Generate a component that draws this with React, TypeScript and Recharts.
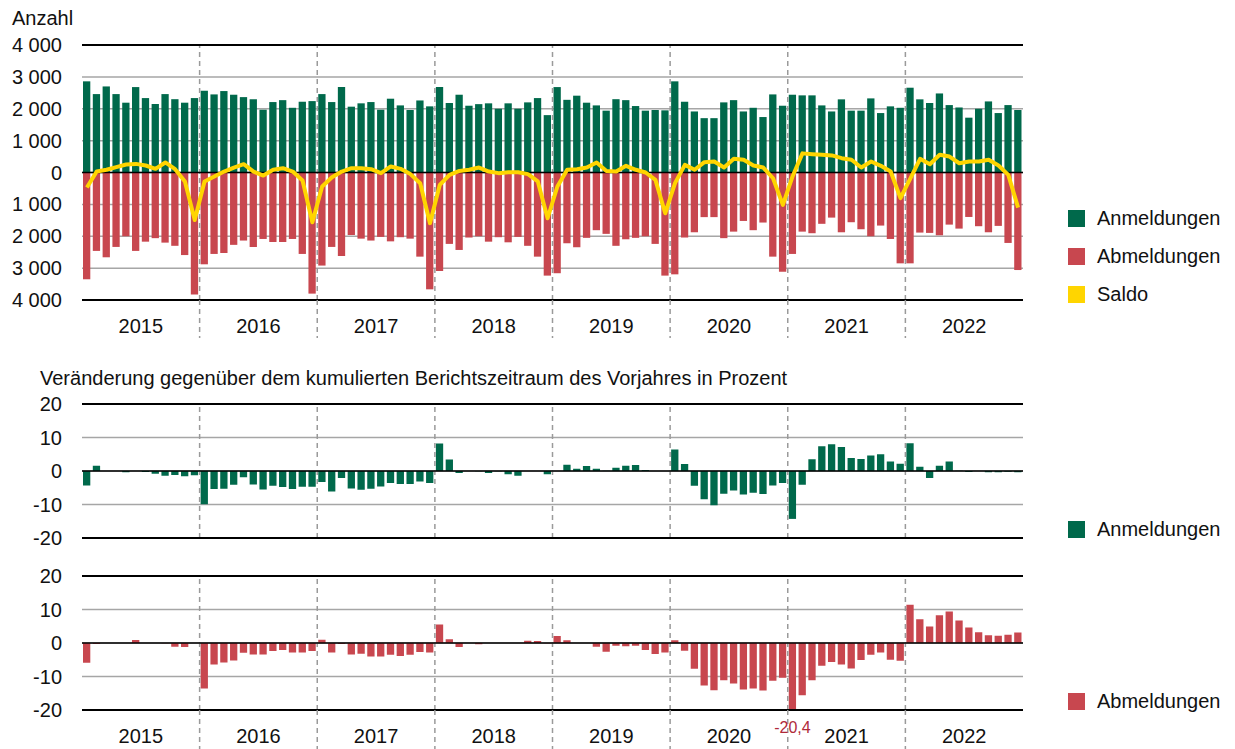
import {
  ComposedChart, BarChart, Bar, Line, XAxis, YAxis, CartesianGrid, ReferenceLine, LabelList,
} from "recharts";

const YEARS = ["2015", "2016", "2017", "2018", "2019", "2020", "2021", "2022"];

// monthly counts, Jan 2015 - Dec 2022
const ANMELDUNGEN = [
  2860, 2460, 2700, 2460, 2190, 2680, 2335, 2150, 2460, 2300, 2190, 2335,
  2565, 2450, 2555, 2440, 2365, 2300, 1970, 2210, 2270, 2030, 2220, 2240,
  2460, 2210, 2680, 2065, 2170, 2210, 1970, 2315, 2105, 1960, 2260, 2075,
  2680, 2180, 2440, 2095, 2145, 2170, 2000, 2170, 2000, 2200, 2335, 1800,
  2680, 2280, 2410, 2190, 2105, 1940, 2300, 2270, 2085, 1940, 1960, 1950,
  2860, 2220, 1915, 1705, 1705, 2200, 2270, 1915, 2030, 1740, 2450, 2095,
  2440, 2420, 2420, 2105, 1915, 2295, 1940, 1940, 2325, 1865, 2075, 2030,
  2660, 2295, 2180, 2480, 2115, 2040, 1720, 2000, 2230, 1865, 2115, 1960,
];

// drawn below zero
const ABMELDUNGEN = [
  3350, 2460, 2660, 2335, 2000, 2460, 2170, 2060, 2200, 2300, 2590, 3830,
  2880, 2555, 2525, 2270, 2135, 2335, 2085, 2180, 2180, 2085, 2555, 3800,
  2920, 2335, 2620, 1960, 2075, 2135, 2020, 2160, 2030, 2075, 2640, 3665,
  3090, 2240, 2430, 2040, 2000, 2170, 2030, 2190, 2020, 2300, 2640, 3235,
  3160, 2220, 2345, 2050, 1810, 1925, 2300, 2095, 2050, 2000, 2240, 3235,
  3195, 2040, 1875, 1400, 1400, 2060, 1855, 1520, 1810, 1570, 2640, 3110,
  2555, 1855, 1905, 1610, 1415, 1875, 1560, 1780, 2000, 1665, 2085, 2850,
  2850, 1885, 1895, 1970, 1635, 1760, 1395, 1685, 1875, 1675, 2210, 3060,
];

const SALDO = [
  -470, 30, 85, 170, 250, 270, 220, 115, 315, 105, -280, -1490,
  -280, -125, 30, 155, 260, 30, -95, 85, 135, 30, -250, -1560,
  -440, -150, 30, 135, 135, 105, -20, 190, 115, -50, -335, -1590,
  -390, -75, 50, 85, 155, 30, -20, 10, 10, -50, -280, -1435,
  -440, 85, 105, 155, 315, 50, 30, 210, 85, 0, -230, -1280,
  -335, 240, 85, 325, 345, 155, 430, 400, 220, 155, -180, -1015,
  -115, 600, 575, 555, 535, 450, 400, 155, 345, 210, 30, -805,
  -190, 430, 260, 555, 500, 290, 345, 345, 400, 220, -75, -1100,
];

// change vs. cumulated reporting period of previous year, %
const ANM_PCT = [
  -4.3, 1.6, 0, 0, -0.4, 0, -0.3, -0.8, -1.4, -1.2, -1.6, -1.3,
  -9.9, -5.4, -5.3, -4.1, -1.9, -4.0, -5.5, -4.4, -4.8, -5.4, -4.7, -4.7,
  -3.3, -6.1, -2.1, -5.2, -5.6, -5.3, -4.6, -3.6, -3.9, -3.9, -3.1, -3.6,
  8.2, 3.4, -0.6, 0, -0.1, -0.6, -0.1, -1.0, -1.4, 0, 0, -1.0,
  0, 1.9, 0.7, 1.5, 0.7, 0.1, 1.0, 1.6, 1.8, 0.3, 0, 0,
  6.4, 2.1, -4.4, -8.4, -10.2, -6.8, -5.8, -7.0, -6.5, -6.9, -4.3, -3.6,
  -14.3, -4.1, 3.5, 7.4, 8.0, 7.2, 3.9, 3.6, 4.6, 5.0, 2.8, 2.2,
  8.3, 1.3, -2.1, 1.6, 2.8, 0.1, -0.3, 0, -0.4, -0.4, -0.2, -0.4,
];

const ABM_PCT = [
  -5.9, -0.3, 0, 0, 0, 0.9, 0, 0, -0.1, -1.1, -1.2, 0,
  -13.6, -6.4, -5.8, -5.2, -2.9, -3.4, -3.4, -2.4, -2.1, -2.8, -2.8, -2.4,
  1.0, -2.8, -0.3, -3.4, -3.2, -4.0, -4.0, -3.5, -3.9, -3.5, -2.7, -2.8,
  5.5, 1.1, -1.2, 0, -0.4, 0, 0, 0, 0, 0.7, 0.6, -0.1,
  2.1, 0.8, 0, 0, -1.1, -2.6, -0.8, -1.0, -0.8, -2.1, -3.3, -2.8,
  0.8, -2.3, -7.7, -12.7, -14.1, -11.1, -12.1, -13.9, -13.6, -14.2, -11.3, -10.4,
  -20.4, -15.6, -11.1, -6.8, -5.7, -6.4, -7.6, -5.1, -3.5, -2.8, -5.0, -5.3,
  11.4, 7.1, 4.9, 8.3, 9.4, 6.7, 4.6, 3.2, 2.3, 2.2, 2.5, 3.1,
];

const COUNT_TICKS = [-4000, -3000, -2000, -1000, 0, 1000, 2000, 3000, 4000];
const PCT_TICKS = [-20, -10, 0, 10, 20];

const GREEN = "#00694b";
const RED = "#c8474f";
const YELLOW = "#ffd500";
const GRID = "#a6a6a6";
const DIVIDER = "#9a9a9a";
const FONT = '"Liberation Sans", Arial, Helvetica, sans-serif';
const BAR = 7.3;

const data = ANMELDUNGEN.map((an, i) => ({
  x: i + 0.5,
  an,
  ab: -ABMELDUNGEN[i],
  saldo: SALDO[i],
  anPct: ANM_PCT[i],
  abPct: ABM_PCT[i],
}));

// year centres and year borders on the month axis
const X_TICKS = Array.from({ length: YEARS.length * 2 - 1 }, (_, i) => (i + 1) * 6);
const YEAR_BOUNDS = YEARS.slice(1).map((_, i) => (i + 1) * 12);
const ABM_MIN = Math.min(...ABM_PCT);

const fmtCount = (v: number) => {
  const a = Math.abs(v);
  return a >= 1000 ? `${Math.floor(a / 1000)} ${String(a % 1000).padStart(3, "0")}` : String(a);
};

function YearTick({ x, y, payload, ext }: any) {
  const v = payload.value;
  if (v % 12 === 0) {
    return <line x1={x} x2={x} y1={y} y2={y + ext} stroke={DIVIDER} strokeWidth={1.5} strokeDasharray="5 4" />;
  }
  return (
    <text x={x} y={y + 26} textAnchor="middle" dominantBaseline="central" fontSize={20} fill="#111">
      {YEARS[(v - 6) / 12]}
    </text>
  );
}

// only the lowest bar gets its value printed under the axis
function MinLabel(props: any) {
  const { x, y, width, height, value } = props;
  if (Number(value) !== ABM_MIN) return null;
  const bottom = Math.max(y, y + height);
  return (
    <text x={x + width / 2} y={bottom + 16} textAnchor="middle" dominantBaseline="central" fontSize={16} fill="#b02a3a">
      {String(value).replace(".", ",")}
    </text>
  );
}

function LegendItem({ color, label, top }: { color: string; label: string; top: number }) {
  return (
    <div style={{ position: "absolute", left: 1068, top, height: 24, display: "flex", alignItems: "center" }}>
      <span style={{ width: 17, height: 17, background: color, marginRight: 12 }} />
      <span style={{ fontSize: 20, lineHeight: "24px" }}>{label}</span>
    </div>
  );
}

const yTick = { fontSize: 20, fill: "#111" };

function dividers() {
  return YEAR_BOUNDS.map((b) => (
    <ReferenceLine key={b} x={b} stroke={DIVIDER} strokeWidth={1.5} strokeDasharray="5 4" />
  ));
}

function frame(max: number) {
  return [
    <ReferenceLine key="top" y={max} stroke="#000" strokeWidth={2} />,
    <ReferenceLine key="bottom" y={-max} stroke="#000" strokeWidth={2} />,
    <ReferenceLine key="zero" y={0} stroke="#000" strokeWidth={1.5} />,
  ];
}

export default function App() {
  return (
    <div style={{ position: "relative", width: 1235, height: 749, fontFamily: FONT, color: "#111", overflow: "hidden" }}>
      <style>{"body{margin:0}"}</style>

      <div style={{ position: "absolute", left: 12, top: 6, fontSize: 20, lineHeight: "24px" }}>Anzahl</div>
      <div style={{ position: "absolute", left: 0, top: 0 }}>
        <ComposedChart width={1030} height={345} data={data} stackOffset="sign"
          margin={{ top: 45, right: 7, bottom: 0, left: 0 }}>
          <CartesianGrid vertical={false} stroke={GRID} strokeWidth={1.5} />
          <XAxis type="number" dataKey="x" domain={[0, 96]} ticks={X_TICKS} interval={0}
            tick={(p: any) => <YearTick {...p} ext={38} />}
            tickLine={false} axisLine={false} tickSize={0} tickMargin={0} height={45} />
          <YAxis type="number" domain={[-4000, 4000]} ticks={COUNT_TICKS} tickFormatter={fmtCount} interval={0}
            width={82} tickSize={0} tickMargin={20} axisLine={false} tickLine={false} tick={yTick} />
          {dividers()}
          <Bar dataKey="an" stackId="s" fill={GREEN} barSize={BAR} isAnimationActive={false} />
          <Bar dataKey="ab" stackId="s" fill={RED} barSize={BAR} isAnimationActive={false} />
          {frame(4000)}
          <Line dataKey="saldo" type="linear" stroke={YELLOW} strokeWidth={4} dot={false}
            strokeLinejoin="round" isAnimationActive={false} />
        </ComposedChart>
      </div>
      <LegendItem color={GREEN} label="Anmeldungen" top={206} />
      <LegendItem color={RED} label="Abmeldungen" top={244} />
      <LegendItem color={YELLOW} label="Saldo" top={282} />

      <div style={{ position: "absolute", left: 40, top: 366, fontSize: 20, lineHeight: "24px", whiteSpace: "nowrap" }}>
        Veränderung gegenüber dem kumulierten Berichtszeitraum des Vorjahres in Prozent
      </div>

      <div style={{ position: "absolute", left: 0, top: 394 }}>
        <BarChart width={1030} height={160} data={data} margin={{ top: 10, right: 7, bottom: 16, left: 0 }}>
          <CartesianGrid vertical={false} stroke={GRID} strokeWidth={1.5} />
          <XAxis type="number" dataKey="x" domain={[0, 96]} hide />
          <YAxis type="number" domain={[-20, 20]} ticks={PCT_TICKS} allowDataOverflow interval={0}
            width={82} tickSize={0} tickMargin={20} axisLine={false} tickLine={false} tick={yTick} />
          {dividers()}
          <Bar dataKey="anPct" fill={GREEN} barSize={BAR} isAnimationActive={false} />
          {frame(20)}
        </BarChart>
      </div>
      <LegendItem color={GREEN} label="Anmeldungen" top={517} />

      <div style={{ position: "absolute", left: 0, top: 566 }}>
        <BarChart width={1030} height={183} data={data} margin={{ top: 10, right: 7, bottom: 0, left: 0 }}>
          <CartesianGrid vertical={false} stroke={GRID} strokeWidth={1.5} />
          <XAxis type="number" dataKey="x" domain={[0, 96]} ticks={X_TICKS} interval={0}
            tick={(p: any) => <YearTick {...p} ext={40} />}
            tickLine={false} axisLine={false} tickSize={0} tickMargin={0} height={39} />
          <YAxis type="number" domain={[-20, 20]} ticks={PCT_TICKS} allowDataOverflow interval={0}
            width={82} tickSize={0} tickMargin={20} axisLine={false} tickLine={false} tick={yTick} />
          {dividers()}
          <Bar dataKey="abPct" fill={RED} barSize={BAR} isAnimationActive={false}>
            <LabelList dataKey="abPct" content={MinLabel} />
          </Bar>
          {frame(20)}
        </BarChart>
      </div>
      <LegendItem color={RED} label="Abmeldungen" top={689} />
    </div>
  );
}
